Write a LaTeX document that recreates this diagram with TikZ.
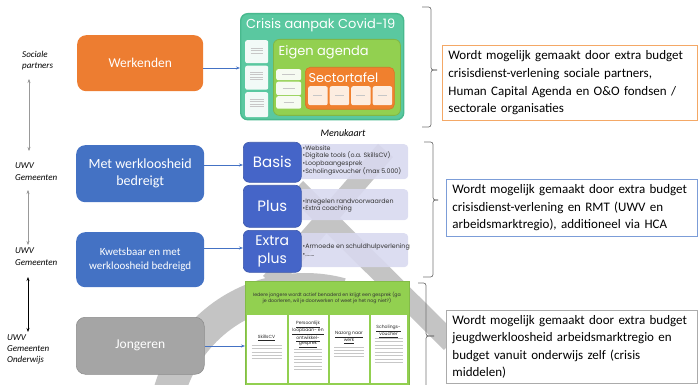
\documentclass[tikz,border=0pt]{standalone}
\usepackage{fontspec}
\setmainfont{Carlito}
\newfontfamily\geo{Poppins}
\usetikzlibrary{arrows.meta}

\definecolor{offorange}{HTML}{ED7D31}
\definecolor{offblue}{HTML}{4472C4}
\definecolor{menublue}{HTML}{4565C8}
\definecolor{offgray}{HTML}{A5A5A5}
\definecolor{crisisgreen}{HTML}{5AC8A0}
\definecolor{crisisedge}{HTML}{48B98E}
\definecolor{agendagreen}{HTML}{92D050}
\definecolor{sectororange}{HTML}{F0802E}
\definecolor{menulilac}{HTML}{D8D9EF}
\definecolor{bandgray}{HTML}{C4C4C4}
\definecolor{noteorange}{HTML}{F4A866}
\definecolor{noteblue}{HTML}{7C9DD8}
\definecolor{notegray}{HTML}{ABABAB}

% rows of tiny strokes standing in for unreadable small print
\newcommand\smallprint[5]{%
  \foreach \k in {1,...,#4}{%
    \draw[scrib] ({#1-#3/2},{#2+(\k-1)*#5}) -- ({#1+#3/2},{#2+(\k-1)*#5});}}

\begin{document}
\begin{tikzpicture}[x=1pt,y=-1pt,
  box/.style={anchor=north west, inner sep=0pt, align=center},
  leftbox/.style={box, rounded corners=9pt, text=white, minimum width=128, minimum height=56},
  menubox/.style={box, rounded corners=6pt, fill=menublue, draw=menublue!85!black, line width=0.6pt,
    text=white, minimum width=58, font=\geo\fontsize{15}{17}\selectfont},
  lilac/.style={box, rounded corners=4pt, fill=menulilac, fill opacity=0.9, minimum width=110},
  bullets/.style={anchor=west, align=left, inner sep=0pt, text=black!80,
    font=\geo\fontsize{6.3}{7.4}\selectfont},
  paper/.style={box, rounded corners=2pt, fill=white, fill opacity=0.92},
  note/.style={box, line width=0.9pt, fill=white, text=black, align=left,
    inner xsep=6pt, inner ysep=0pt, font=\fontsize{13}{17.6}\selectfont,
    execute at begin node={\hyphenpenalty=10000\exhyphenpenalty=10000}},
  sidelabel/.style={anchor=north west, align=left, inner sep=0pt,
    font=\itshape\fontsize{9}{11.5}\selectfont},
  flow/.style={-{Stealth[length=4pt,width=3pt]}, offblue, line width=0.6pt},
  span/.style={{Stealth[length=4pt,width=3pt,fill=black]}-{Stealth[length=4pt,width=3pt,fill=black]}, line width=0.6pt},
  brc/.style={draw=black!55, line width=0.7pt, rounded corners=2.5pt},
  scrib/.style={draw=black!22, line width=0.45pt},
  band/.style={fill=bandgray}
]
\useasboundingbox (0,0) rectangle (699,385);

% ---------- grey background bands ----------
\fill[band] (303,181) -- (458,335) -- (444,350) -- (289,196) -- cycle;
\fill[band] (393,157) -- (278,289) -- (263,276) -- (378,144) -- cycle;
\fill[band] ({305+157*cos(-75)},{430+157*sin(-75)}) arc[start angle=-75, end angle=-178, radius=157]
  -- ({305+125*cos(-178)},{430+125*sin(-178)}) arc[start angle=-178, end angle=-75, radius=125] -- cycle;

% ---------- target groups ----------
\node[leftbox, fill=offorange, minimum width=126, font=\fontsize{13.5}{16}\selectfont] (werk) at (77,35) {Werkenden};
\node[leftbox, fill=offblue, minimum height=57, font=\fontsize{14}{17}\selectfont] (bedreigd) at (76,145) {Met werkloosheid\\bedreigt};
\node[leftbox, fill=offblue, minimum height=55, font=\fontsize{11}{13.5}\selectfont] (kwets) at (76,232) {Kwetsbaar en met\\werkloosheid bedreigd};
\node[leftbox, fill=offgray, draw=offgray!85!black, line width=0.5pt, minimum height=57, font=\fontsize{13.5}{16}\selectfont] (jong) at (76,317) {Jongeren};

% ---------- actors ----------
\node[sidelabel] (sp) at (22,51) {Sociale\\partners};
\node[sidelabel] (uwv1) at (15,163) {UWV\\Gemeenten};
\node[sidelabel] (uwv2) at (15,248) {UWV\\Gemeenten};
\node[sidelabel, font=\itshape\fontsize{9}{10.8}\selectfont] (uwv3) at (7,335) {UWV\\Gemeenten\\Onderwijs};
\coordinate (r1top) at (29,79);  \coordinate (r1bot) at (29,151);
\coordinate (r2top) at (28,190); \coordinate (r2bot) at (28,245);
\coordinate (r3top) at (28,277); \coordinate (r3bot) at (28,332);
\draw[span, draw=black!40] (r1top) -- (r1bot);
\draw[span, draw=black!40] (r2top) -- (r2bot);
\draw[span, draw=black] (r3top) -- (r3bot);

% ---------- crisis approach ----------
\node[box, fill=crisisgreen, draw=crisisedge, line width=1.4pt, rounded corners=7pt,
  minimum width=163, minimum height=106] (crisis) at (240,13) {};
\node[anchor=west, inner sep=0pt, text=white, font=\geo\fontsize{13}{15}\selectfont] (crisistitle) at (246,25.5) {Crisis aanpak Covid-19};
\node[paper, minimum width=23, minimum height=23] (c1) at (245,40) {};
\node[paper, minimum width=23, minimum height=24] (c2) at (245,65.5) {};
\node[paper, minimum width=23, minimum height=25] (c3) at (245,92) {};
\smallprint{256.5}{48}{12}{3}{2.5}
\smallprint{256.5}{72}{13}{4}{2.5}
\smallprint{256.5}{99}{14}{4}{2.5}

\node[box, fill=agendagreen, draw=agendagreen!88!black, line width=0.8pt, rounded corners=6pt,
  minimum width=127, minimum height=76] (agenda) at (273,39) {};
\node[anchor=west, inner sep=0pt, text=white, font=\geo\fontsize{13}{15}\selectfont] (agendatitle) at (278.5,52.5) {Eigen agenda};
\node[paper, minimum width=25, minimum height=11] (g1) at (276,69) {};
\node[paper, minimum width=25, minimum height=13.5] (g2) at (276,81.5) {};
\node[paper, minimum width=25, minimum height=12.5] (g3) at (276,96) {};
\smallprint{288.5}{74.5}{13}{1}{2.5}
\smallprint{288.5}{88}{12}{1}{2.5}
\smallprint{288.5}{102}{10}{1}{2.5}

\node[box, fill=sectororange, draw=sectororange!90!black, line width=0.6pt, rounded corners=5pt,
  minimum width=89, minimum height=42] (sector) at (305,67) {};
\node[anchor=west, inner sep=0pt, text=white, font=\geo\fontsize{12.8}{15}\selectfont] (sectortitle) at (308.5,77.5) {Sectortafel};
\foreach \i/\xx in {1/308,2/329.5,3/351,4/372.5}{
  \node[paper, fill=white!94!orange, minimum width=19.5, minimum height=19] (s\i) at (\xx,86) {};
  \smallprint{\xx+9.75}{95.5}{9}{1}{2.5}
}

% ---------- menu ----------
\node[inner sep=0pt, font=\itshape\fontsize{10}{12}\selectfont] (menu) at (343,133) {Menukaart};

\node[lilac, minimum height=35] (l1) at (298,144) {};
\node[lilac, minimum height=31] (l2) at (298,189) {};
\node[lilac, minimum height=34] (l3) at (298,233) {};

\node[menubox, minimum height=40] (basis) at (243,142) {Basis};
\node[menubox, minimum height=42] (plus) at (243,185) {Plus};
\node[menubox, minimum height=42, font=\geo\fontsize{14}{18}\selectfont] (extra) at (243,230) {Extra\\plus};

\node[bullets] (b1) at (302.5,160.5) {•Website\\•Digitale tools (o.a. SkillsCV)\\•Loopbaangesprek\\•Scholingsvoucher (max 5.000)};
\node[bullets] (b2) at (302.5,205.5) {•Inregelen randvoorwaarden\\•Extra coaching};
\node[bullets] (b3) at (302.5,250) {•Armoede en schuldhulpverlening\\•.......};

% ---------- youth offer ----------
\node[box, fill=agendagreen, draw=agendagreen!90!black, line width=0.8pt,
  minimum width=164, minimum height=112] (youth) at (245,281) {};
\node[inner sep=0pt, align=center, text=black!80, font=\geo\fontsize{4.7}{6.5}\selectfont] (youthhead) at (327,298)
  {Iedere jongere wordt actief benaderd en krijgt een gesprek (ga\\je doorleren, wil je doorwerken of weet je het nog niet?)};
\fill[white] (247,315) rectangle (286.5,383);
\fill[white] (288.5,315) rectangle (327.5,383);
\fill[white] (329.5,315) rectangle (368.5,383);
\fill[white] (370.5,315) rectangle (407,383);
\node[inner sep=0pt, align=center, text=black!85, font=\geo\fontsize{4.5}{5.6}\selectfont] (col1) at (266.5,338) {\underline{SkillsCV}};
\node[inner sep=0pt, align=center, text=black!85, font=\geo\fontsize{4.5}{5.6}\selectfont] (col2) at (308,334.5) {\underline{Persoonlijk}\\\underline{loopbaan- en}\\\underline{ontwikkel-}\\\underline{gesprek}};
\node[inner sep=0pt, align=center, text=black!85, font=\geo\fontsize{4.5}{5.6}\selectfont] (col3) at (349,337.5) {\underline{Nazorg naar}\\\underline{werk}};
\node[inner sep=0pt, align=center, text=black!85, font=\geo\fontsize{4.5}{5.6}\selectfont] (col4) at (388.5,331.5) {\underline{Scholings-}\\\underline{voucher}};
\smallprint{266.5}{345}{30}{5}{3.4}
\smallprint{308}{349}{28}{7}{3.4}
\smallprint{349}{347}{30}{4}{3.2}
\smallprint{388.5}{338}{28}{8}{3.5}

% ---------- flows into the offer ----------
\draw[flow] (werk.east |- 0,68) -- (crisis.west |- 0,68);
\draw[flow] (bedreigd.east |- 0,165) -- (basis.west |- 0,165);
\draw[flow] (kwets.east |- 0,248) -- (extra.west |- 0,248);
\draw[flow] (jong.east |- 0,346) -- (youth.west |- 0,346);

% ---------- funding ----------
\draw[brc] (422,7) -- (431,7) -- (431,70) -- (437,70);
\draw[brc] (437,70) -- (431,70) -- (431,127) -- (422,127);
\draw[brc] (424,142) -- (433,142) -- (433,200) -- (438,200);
\draw[brc] (438,200) -- (433,200) -- (433,277) -- (423,277);
\draw[brc] (418,283) -- (426,283) -- (426,336) -- (434,336);
\draw[brc] (434,336) -- (426,336) -- (426,392);

\node[note, draw=noteorange, text width=243, minimum height=75] (fund1) at (442,45)
  {Wordt mogelijk gemaakt door extra budget\\crisisdienst-verlening sociale partners,\\Human Capital Agenda en O\&O fondsen /\\sectorale organisaties};
\node[note, draw=noteblue, text width=239, minimum height=57] (fund2) at (446,179)
  {Wordt mogelijk gemaakt door extra budget\\crisisdienst-verlening en RMT (UWV en\\arbeidsmarktregio), additioneel via HCA};
\node[note, draw=notegray, text width=239, minimum height=73] (fund3) at (446,310)
  {Wordt mogelijk gemaakt door extra budget\\jeugdwerkloosheid arbeidsmarktregio en\\budget vanuit onderwijs zelf (crisis\\middelen)};
\end{tikzpicture}
\end{document}
